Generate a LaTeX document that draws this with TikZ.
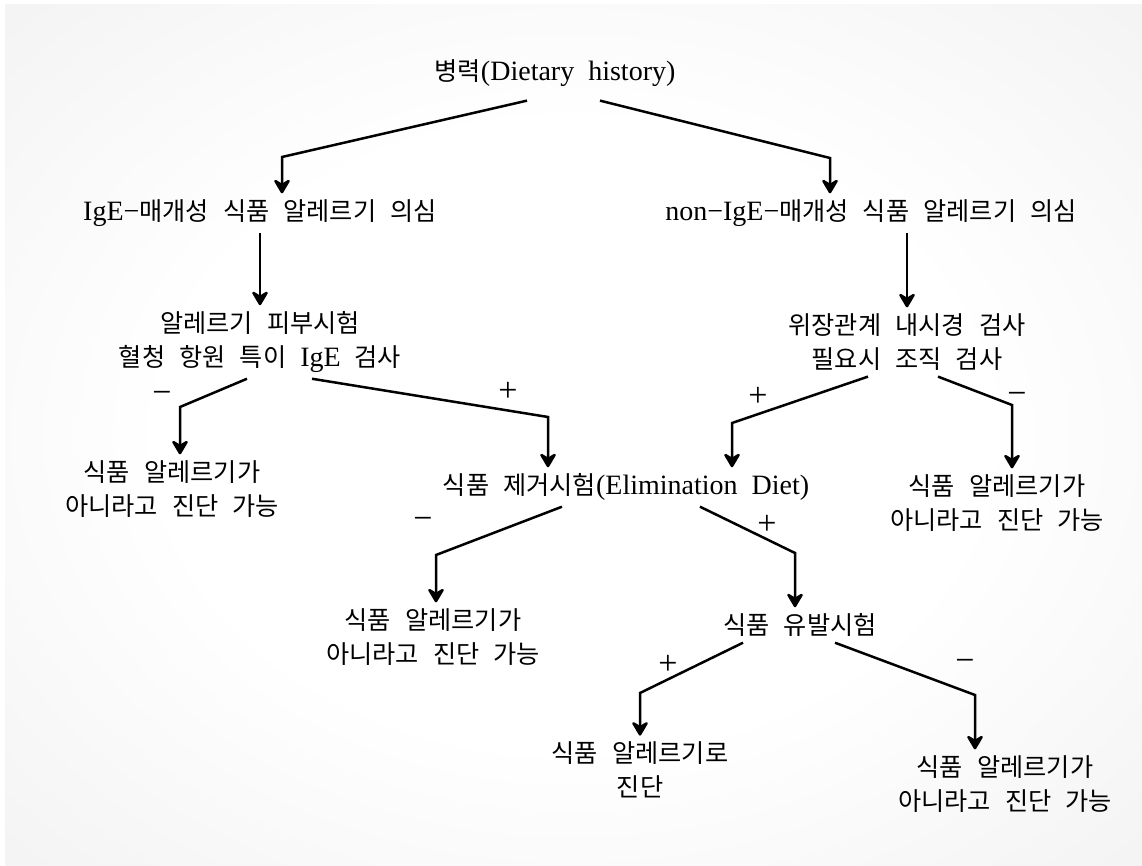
\documentclass[tikz,border=0pt]{standalone}
\usepackage{fontspec}
\setmainfont[WordSpace=2]{Liberation Serif}
\newfontfamily\kr[Scale=0.9,WordSpace=2.5]{Noto Sans CJK KR}
\usetikzlibrary{arrows.meta}
\pgfdeclareradialshading{glow}{\pgfpoint{0bp}{0bp}}{color(0bp)=(white); color(18bp)=(white); color(72bp)=(gray!28)}
\begin{document}
\begin{tikzpicture}[x=1pt,y=-1pt,
  txt/.style={align=center,inner xsep=2pt,inner ysep=6pt,font=\fontsize{28}{34}\selectfont},
  sign/.style={inner sep=0pt,font=\fontsize{34}{40}\selectfont},
  arr/.style={line width=2.5pt,-{Stealth[length=17pt,width=20pt,inset=6pt,round]}}]
\fill[white] (0,0) rectangle (1142,866);
\shade[shading=glow] (5,5) rectangle (1142,866);
\node[txt] (a) at (555,73) {{\kr 병력}(Dietary history)};
\node[txt] (b) at (260,213) {IgE−{\kr 매개성 식품 알레르기 의심}};
\node[txt] (c) at (871,213) {non−IgE−{\kr 매개성 식품 알레르기 의심}};
\node[txt] (d) at (260,342) {{\kr 알레르기 피부시험}\\{\kr 혈청 항원 특이} IgE {\kr 검사}};
\node[txt] (e) at (907,342) {{\kr 위장관계 내시경 검사}\\{\kr 필요시 조직 검사}};
\node[txt] (f) at (172,489) {{\kr 식품 알레르기가}\\{\kr 아니라고 진단 가능}};
\node[txt] (g) at (626,487) {{\kr 식품 제거시험}(Elimination Diet)};
\node[txt] (h) at (997,503) {{\kr 식품 알레르기가}\\{\kr 아니라고 진단 가능}};
\node[txt] (i) at (433,637) {{\kr 식품 알레르기가}\\{\kr 아니라고 진단 가능}};
\node[txt] (j) at (800,625) {{\kr 식품 유발시험}};
\node[txt] (k) at (640,770) {{\kr 식품 알레르기로}\\{\kr 진단}};
\node[txt] (l) at (1005,784) {{\kr 식품 알레르기가}\\{\kr 아니라고 진단 가능}};
% elbows
\coordinate (ab) at (282,157);
\coordinate (ac) at (830,158);
\coordinate (df) at (180,407);
\coordinate (dg) at (548,417);
\coordinate (eg) at (732,423);
\coordinate (eh) at (1012,405);
\coordinate (gi) at (436,555);
\coordinate (gj) at (795,553);
\coordinate (jk) at (640,693);
\coordinate (jl) at (975,695);
% signs
\node[sign] (s1) at (162,397) {−};
\node[sign] (s2) at (508,392) {+};
\node[sign] (s3) at (758,397) {+};
\node[sign] (s4) at (1017,398) {−};
\node[sign] (s5) at (423,523) {−};
\node[sign] (s6) at (767,525) {+};
\node[sign] (s7) at (668,665) {+};
\node[sign] (s8) at (965,665) {−};
% connectors
\draw[arr] ([xshift=-28pt,yshift=-8pt]a.south) -- (ab) -- (ab |- b.north);
\draw[arr] ([xshift=45pt,yshift=-8pt]a.south) -- (ac) -- (ac |- c.north);
\draw[arr] (b.south) -- (d.north);
\draw[arr] (c.south -| e.north) -- (e.north);
\draw[arr] ([xshift=-13pt]d.south) -- (df) -- (df |- f.north);
\draw[arr] ([xshift=52pt]d.south) -- (dg) -- (dg |- g.north);
\draw[arr] ([xshift=-39pt]e.south) -- (eg) -- (eg |- g.north);
\draw[arr] ([xshift=31pt]e.south) -- (eh) -- (eh |- h.north);
\draw[arr] ([xshift=-64pt]g.south) -- (gi) -- (gi |- i.north);
\draw[arr] ([xshift=74pt]g.south) -- (gj) -- (gj |- j.north);
\draw[arr] ([xshift=-57pt]j.south) -- (jk) -- (jk |- k.north);
\draw[arr] ([xshift=35pt]j.south) -- (jl) -- (jl |- l.north);
\end{tikzpicture}
\end{document}
